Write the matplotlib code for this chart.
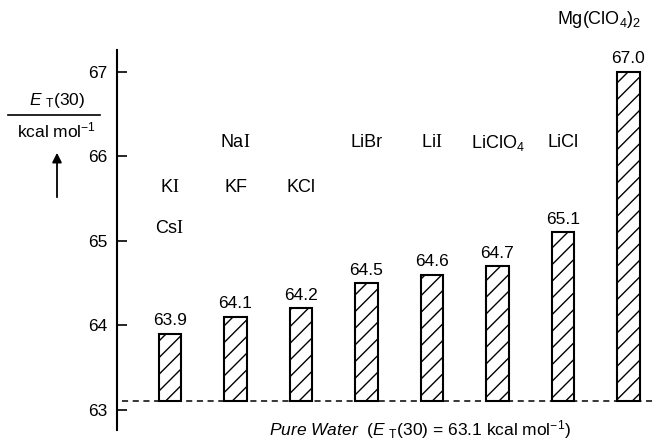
import matplotlib
matplotlib.use("Agg")
import matplotlib.pyplot as plt
from matplotlib.patches import FancyArrowPatch

plt.rcParams['font.family'] = ['Liberation Sans', 'DejaVu Sans']
plt.rcParams['mathtext.fontset'] = 'custom'
plt.rcParams['mathtext.rm'] = 'Liberation Serif'
plt.rcParams['mathtext.sf'] = 'Liberation Sans'
plt.rcParams['mathtext.it'] = 'Liberation Sans:italic'
plt.rcParams['hatch.linewidth'] = 1.0

# data
salts_top = ['Na$\\mathrm{I}$', 'LiBr', 'Li$\\mathrm{I}$', 'LiClO$_{\\mathsf{4}}$', 'LiCl']
values = [63.9, 64.1, 64.2, 64.5, 64.6, 64.7, 65.1, 67.0]
value_labels = ['63.9', '64.1', '64.2', '64.5', '64.6', '64.7', '65.1', '67.0']
pure_water = 63.1
yticks = [63, 64, 65, 66, 67]

fig = plt.figure(figsize=(6.52, 4.43), dpi=100)
ax = fig.add_axes([0.1794, 0.0293, 0.8206, 0.8577])
x = list(range(len(values)))
heights = [v - pure_water for v in values]
ax.bar(x, heights, bottom=pure_water, width=0.34, facecolor='white',
       edgecolor='black', linewidth=1.5, hatch='//')
ax.set_xlim(-0.81, 7.36)
ax.set_ylim(62.76, 67.26)
ax.axhline(pure_water, xmin=0.01, xmax=1, color='black', lw=1.1,
           ls=(0, (4, 3)))

for xi, v, lab in zip(x, values, value_labels):
    ax.annotate(lab, (xi, v), xytext=(0, 4), textcoords='offset points',
                ha='center', va='bottom', fontsize=12.5)

fs = 13
# salt labels
ax.text(0, 65.63, 'K$\\mathrm{I}$', ha='center', va='center', fontsize=fs)
ax.text(0, 65.15, 'Cs$\\mathrm{I}$', ha='center', va='center', fontsize=fs)
ax.text(1, 66.16, 'Na$\\mathrm{I}$', ha='center', va='center', fontsize=fs)
ax.text(1, 65.63, 'KF', ha='center', va='center', fontsize=fs)
ax.text(2, 65.63, 'KCl', ha='center', va='center', fontsize=fs)
for xi, s in zip([3, 4, 5, 6], salts_top[1:]):
    ax.text(xi, 66.16, s, ha='center', va='center', fontsize=fs)
ax.text(7.2, 67.62, 'Mg(ClO$_{\\mathsf{4}}$)$_{\\mathsf{2}}$', ha='right',
        va='center', fontsize=fs, clip_on=False)

ax.set_yticks(yticks)
ax.set_yticklabels([str(t) for t in yticks], fontsize=12.5)
ax.tick_params(axis='y', direction='in', length=7, width=1.2, pad=7)
ax.set_xticks([])
for s in ['top', 'right', 'bottom']:
    ax.spines[s].set_visible(False)
ax.spines['left'].set_linewidth(1.5)

# y label as fraction
fig.text(57/652, 1-100/443, '$E$ $_{\\mathsf{T}}$(30)', ha='center',
         va='center', fontsize=12.5)
fig.add_artist(plt.Line2D([8/652, 100/652], [1-115/443, 1-115/443],
                          color='black', lw=1.2, transform=fig.transFigure))
fig.text(57/652, 1-130/443, 'kcal mol$^{\\mathsf{-1}}$', ha='center',
         va='center', fontsize=12.5)
fig.add_artist(FancyArrowPatch((57/652, 1-200/443), (57/652, 1-150/443),
                               transform=fig.transFigure, arrowstyle='-|>',
                               mutation_scale=14, color='black', lw=1.3))

fig.text(420/652, 1-430/443,
         '$\\it{Pure\\ Water}$  ($E$ $_{\\mathsf{T}}$(30) = 63.1 kcal mol$^{\\mathsf{-1}}$)',
         ha='center', va='center', fontsize=12.5)

fig.savefig('out.png', dpi=100)
